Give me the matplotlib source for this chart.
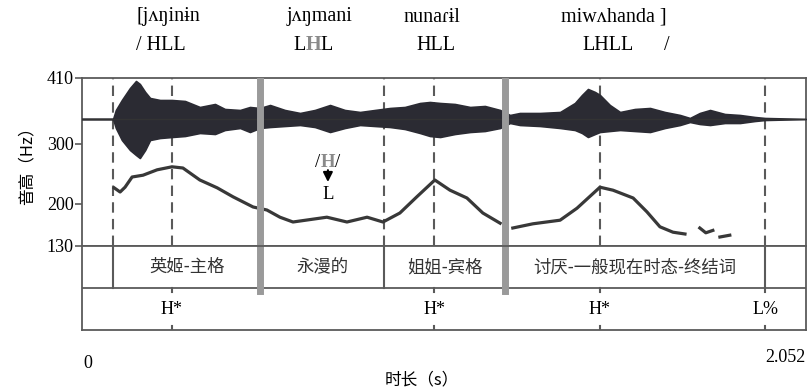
import numpy as np
import matplotlib
matplotlib.use("Agg")
import matplotlib.pyplot as plt
from matplotlib.offsetbox import TextArea, HPacker, AnnotationBbox

plt.rcParams['font.family'] = ['Liberation Serif', 'DejaVu Serif']
CJK = ['Noto Sans CJK SC', 'DejaVu Sans']

# --- data ---
dur = 2.052

# pitch contour (s, Hz); nan = break in the track
f0_t = [0.091, 0.108, 0.122, 0.142, 0.173, 0.213, 0.255, 0.286, 0.334, 0.383, 0.428, 0.485,
        0.524, 0.561, 0.598, 0.694, 0.751, 0.808, 0.853, 0.901, 0.949, 1.000, 1.043, 1.091,
        1.136, 1.185, 1.200, 1.221, 1.278, 1.355, 1.403, 1.468, 1.505, 1.562, 1.601, 1.638,
        1.675, 1.709, 1.730, 1.751, 1.768, 1.788, 1.798, 1.808, 1.836]
f0_hz = [227, 220, 228, 245, 248, 257, 262, 260, 240, 227, 212, 195,
         190, 178, 170, 178, 170, 178, 170, 185, 212, 240, 223, 210,
         185, 168, np.nan, 160, 167, 173, 193, 228, 223, 210, 187, 162,
         153, 150, np.nan, 160, 152, 156, np.nan, 145, 148]

# waveform envelope (s, upper / lower amplitude, arbitrary units)
wave_t = [0, 0.088, 0.096, 0.113, 0.136, 0.153, 0.164, 0.179, 0.193, 0.221, 0.255, 0.292,
          0.334, 0.377, 0.405, 0.448, 0.476, 0.504, 0.533, 0.575, 0.618, 0.660, 0.703, 0.745,
          0.788, 0.830, 0.873, 0.915, 0.958, 0.986, 1.015, 1.057, 1.100, 1.142, 1.185, 1.213,
          1.241, 1.298, 1.355, 1.397, 1.417, 1.434, 1.454, 1.468, 1.496, 1.525, 1.567, 1.610,
          1.652, 1.695, 1.723, 1.751, 1.780, 1.822, 1.865, 1.907, 1.936, 2.052]
wave_hi = [0, 0, 9, 19, 31, 38, 35, 27, 21, 19, 19, 18, 12, 15, 10, 9, 12, 11, 14, 9, 6, 9,
           14, 9, 7, 9, 11, 12, 16, 17, 16, 15, 12, 13, 9, 4, 6, 6, 7, 16, 24, 30, 27, 24, 14,
           7, 10, 11, 7, 4, 1, 6, 9, 5, 4, 2, 1, 0]
wave_lo = [0, 0, -9, -21, -31, -36, -39, -31, -21, -19, -18, -17, -14, -15, -11, -9, -13, -9,
           -8, -7, -6, -8, -13, -9, -6, -7, -8, -10, -14, -17, -18, -15, -13, -12, -9, -4, -6,
           -7, -9, -11, -14, -18, -15, -13, -12, -11, -12, -13, -9, -6, -3, -5, -6, -4, -4, -2,
           -1, 0]

# tiers
bounds = [0.088, 0.505, 0.856, 1.199, 1.936]
heavy = [0.505, 1.199]
words = ['英姬-主格', '永漫的', '姐姐-宾格', '讨厌-一般现在时态-终结词']
tone_t = [0.255, 0.998, 1.468, 1.936]
tone_lab = ['H*', 'H*', 'H*', 'L%']
yticks = [130, 200, 300, 410]

W, H = 810, 390
fig = plt.figure(figsize=(W / 100, H / 100), dpi=100)


def box(x0, y0, x1, y1):
    return [x0 / W, 1 - y1 / H, (x1 - x0) / W, (y1 - y0) / H]


line_c = '#5a5a5a'
gray_c = '#9a9a9a'
hl_c = '#8a8a8a'

ax = fig.add_axes(box(82, 78, 806, 246))
ax.set_xlim(0, dur)
ax.set_ylim(130, 410)
ax.set_yticks(yticks)
ax.set_xticks([])
ax.tick_params(axis='y', direction='out', length=5, width=1.2, color=line_c,
               labelsize=13, pad=1)
for s in ax.spines.values():
    s.set_color(line_c)
    s.set_linewidth(1.3)
ax.set_ylabel('音高（Hz）', family=CJK, fontsize=12, labelpad=8)

# dashed interval / tone lines
for t in [0.088, 0.255, 0.856, 0.998, 1.468, 1.936]:
    ax.axvline(t, color=line_c, lw=1.5, ls=(0, (5, 3)), zorder=1)

# waveform on its own transparent axes
axw = fig.add_axes(box(82, 78, 806, 246))
axw.set_xlim(0, dur)
axw.set_ylim(-127, 41)
axw.axis('off')
axw.plot([0, dur], [0, 0], color='#333333', lw=1)
axw.fill_between(wave_t, wave_lo, wave_hi, color='#2b2b33', lw=1.2, edgecolor='#2b2b33')
for t in heavy:
    axw.axvline(t, color=gray_c, lw=5, zorder=4)

ax.plot(f0_t, f0_hz, color='#383838', lw=2.3, zorder=3)


def coloured_word(parts, size):
    boxes = [TextArea(s, textprops=dict(fontsize=size, color=c,
                                        fontweight='bold' if c != 'black' else 'normal'))
             for s, c in parts]
    return HPacker(children=boxes, sep=0, pad=0, align='baseline')


# /H/ -> L annotation
axw.add_artist(AnnotationBbox(coloured_word([('/', 'black'), ('H', hl_c), ('/', 'black')], 13.5),
                              (0.697, 269), xycoords=ax.transData, frameon=False,
                              box_alignment=(0.5, 0.5)))
axw.annotate('', xy=(0.697, 232), xytext=(0.697, 261), xycoords=ax.transData,
             textcoords=ax.transData,
             arrowprops=dict(arrowstyle='-|>', color='black', lw=1.5, mutation_scale=14))
ax.text(0.697, 216, 'L', fontsize=13.5, ha='center', va='center')

# tiers
axt = fig.add_axes(box(82, 246, 806, 330))
axt.set_xlim(0, dur)
axt.set_ylim(0, 2)
axt.set_xticks([])
axt.set_yticks([])
for s in axt.spines.values():
    s.set_color(line_c)
    s.set_linewidth(1.3)
axt.axhline(1, color=line_c, lw=1.3)
for t in bounds:
    if t in heavy:
        axt.axvline(t, ymin=0.47, ymax=1, color=gray_c, lw=5)
    else:
        axt.axvline(t, ymin=0.5, ymax=1, color=line_c, lw=1.5)
for i, w in enumerate(words):
    axt.text((bounds[i] + bounds[i + 1]) / 2, 1.5, w, family=CJK, fontsize=12.5,
             ha='center', va='center', color='#333333')
for t, lab in zip(tone_t, tone_lab):
    axt.plot([t, t], [0.9, 1.0], color=line_c, lw=1.5)
    axt.plot([t, t], [0.0, 0.1], color=line_c, lw=1.5)
    axt.text(t, 0.5, lab, fontsize=13, ha='center', va='center')


def ftext(x, y, s, **kw):
    fig.text(x / W, 1 - y / H, s, ha='center', va='center', **kw)


# transcription rows above the plot
ftext(168, 17, '[jʌŋinɨn', fontsize=14.5)
ftext(320, 17, 'jʌŋmani', fontsize=14.5)
ftext(432, 17, 'nunaɾɨl', fontsize=14.5)
ftext(614, 17, 'miwʌhanda ]', fontsize=14.5)
ftext(161, 45, '/ HLL', fontsize=14.5)
fig.add_artist(AnnotationBbox(coloured_word([('L', 'black'), ('H', hl_c), ('L', 'black')], 14.5),
                              (313 / W, 1 - 45 / H), xycoords='figure fraction',
                              frameon=False, box_alignment=(0.5, 0.5)))
ftext(436, 45, 'HLL', fontsize=14.5)
ftext(608, 45, 'LHLL', fontsize=14.5)
ftext(667, 45, '/', fontsize=14.5)

# time axis labels
ftext(88, 364, '0', fontsize=13)
ftext(785, 358, '2.052', fontsize=13)
ftext(422, 380, '时长（s）', family=CJK, fontsize=12)

fig.savefig('out.png', dpi=100)
